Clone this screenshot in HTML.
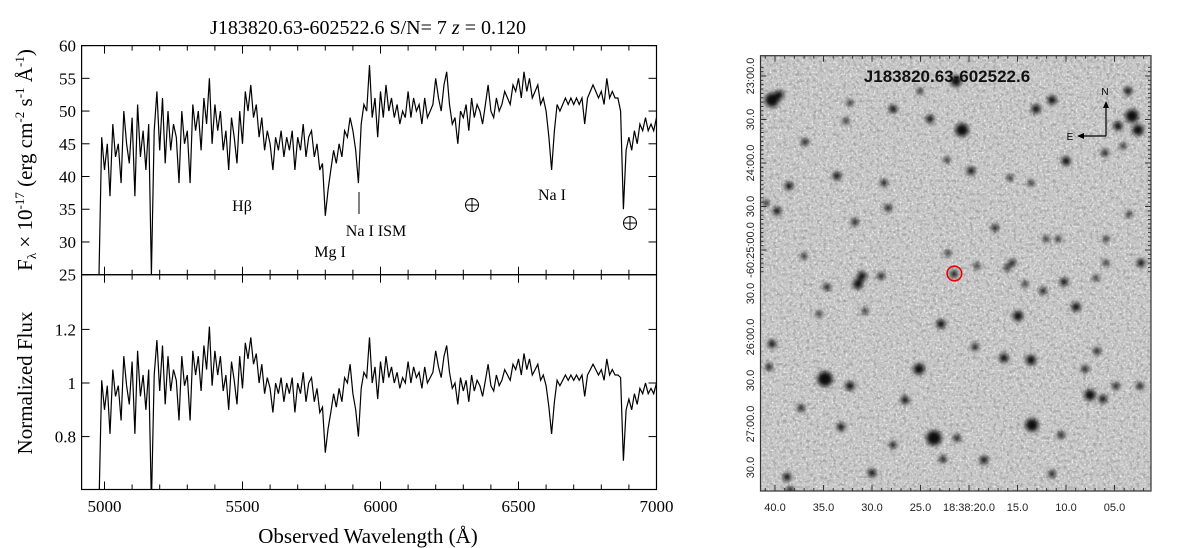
<!DOCTYPE html>
<html><head><meta charset="utf-8">
<style>
html,body{margin:0;padding:0;background:#fff;}
svg{display:block;}
.serif{font-family:"Liberation Serif",serif;}
.sans{font-family:"Liberation Sans",sans-serif;}
</style></head>
<body>
<svg id="root" width="1200" height="548" viewBox="0 0 1200 548" xmlns="http://www.w3.org/2000/svg">
<defs>
  <clipPath id="clipTop"><rect x="81.6" y="45.6" width="574.9" height="229.1"/></clipPath>
  <clipPath id="clipBot"><rect x="81.6" y="274.7" width="574.9" height="214.8"/></clipPath>
  <clipPath id="clipImg"><rect x="760.5" y="55.7" width="390.5" height="435.3"/></clipPath>
  <filter id="noiseW" x="0" y="0" width="100%" height="100%">
    <feTurbulence type="fractalNoise" baseFrequency="0.5" numOctaves="2" seed="7"/>
    <feColorMatrix type="matrix" values="0 0 0 0 1  0 0 0 0 1  0 0 0 0 1  4 0 0 0 -2.1"/>
  </filter>
  <filter id="noiseD" x="0" y="0" width="100%" height="100%">
    <feTurbulence type="fractalNoise" baseFrequency="0.3" numOctaves="2" seed="23"/>
    <feColorMatrix type="matrix" values="0 0 0 0 0  0 0 0 0 0  0 0 0 0 0  -3 0 0 0 1.6"/>
  </filter>
  <filter id="blur" x="-100%" y="-100%" width="300%" height="300%"><feGaussianBlur stdDeviation="2"/></filter>
</defs>
<g id="spec"></g>
<g id="img"></g>
</svg>
<script>
const wlStart = 4980;
const wlStep = 10;
const flux = [25,46,41,45,37,48,43,45,39,50,45,42,49,37,51,43,47,41,48,25,47,53,44,52,42,50,44,48,46,39,50,45,47,39,51,47,50,44,52,48,55,45,51,47,50,44,47,41,49,46,42,50,
45,53,50,54,49,51,46,49,44,47,45,41,46,44,47,43,46,44,47,41,46,44,48,43,46,47,43,45,41,42,34,38,41,44,42,45,43,47,46,49,
47,44,39,48,51,50,57,49,52,46,53,49,54,50,52,49,51,48,50,49,53,49,52,50,51,48,52,49,50,51,55,52,50,54,56,51,48,49,45,50,
49,51,47,52,49,51,50,48,51,54,50,49,52,50,51,53,52,51,54,53,55,52,56,53,55,52,53,54,51,52,50,46,41,47,51,50,51,52,51,52,51,52,51,52,48,52,53,54,53,52,53,51,55,52,53,52,52,
50,35,44,46,44,47,45,48,47,49,47,48,47,49];
const norm = [0.55,1.01,0.90,0.99,0.81,1.05,0.95,0.99,0.86,1.10,0.99,0.92,1.08,0.81,1.12,0.95,1.03,0.90,1.05,0.55,1.03,1.16,0.97,1.14,0.92,1.10,0.97,1.05,1.01,0.86,1.10,0.99,1.03,0.86,1.12,1.03,1.10,0.97,1.14,1.05,1.21,0.99,1.12,1.03,1.10,0.97,1.03,0.90,1.08,1.01,0.92,1.10,
0.98,1.15,1.09,1.17,1.07,1.11,1.00,1.07,0.96,1.02,0.98,0.89,1.00,0.96,1.02,0.93,1.00,0.96,1.02,0.89,1.00,0.96,1.04,0.93,1.00,1.02,0.93,0.98,0.89,0.91,0.74,0.83,0.89,0.96,0.91,0.98,0.93,1.02,1.00,1.07,
0.96,0.90,0.80,0.98,1.04,1.02,1.17,1.00,1.06,0.94,1.08,1.00,1.10,1.02,1.06,1.00,1.04,0.98,1.02,1.00,1.08,1.00,1.06,1.02,1.04,0.98,1.06,1.00,1.02,1.04,1.12,1.06,1.02,1.10,1.14,1.04,0.98,1.00,0.92,1.02,
0.97,1.01,0.93,1.03,0.97,1.01,0.99,0.95,1.01,1.07,0.99,0.97,1.03,0.99,1.01,1.05,1.03,1.01,1.07,1.05,1.09,1.03,1.11,1.05,1.09,1.03,1.05,1.07,1.01,1.03,0.99,0.91,0.81,0.93,1.01,0.99,1.01,1.03,1.01,1.03,1.01,1.03,1.01,1.03,0.95,1.03,1.05,1.07,1.05,1.03,1.05,1.01,1.09,1.03,1.05,1.03,1.03,
1.02,0.71,0.90,0.94,0.90,0.96,0.92,0.98,0.96,1.00,0.96,0.98,0.96,1.00];
const xTicks = [5000,5500,6000,6500,7000];
const topTicks = [25,30,35,40,45,50,55,60];
const botTicks = [0.8,1.0,1.2];
const botTickLabels = ["0.8","1","1.2"];

const NS='http://www.w3.org/2000/svg';
function mk(tag, attrs, parent, text){const e=document.createElementNS(NS,tag);for(const k in attrs)e.setAttribute(k,attrs[k]);if(text!==undefined)e.textContent=text;parent.appendChild(e);return e;}
const spec=document.getElementById('spec');
const L=81.6,R=656.5,T=45.6,M=274.7,B=489.5;
const xS=w=>104.5+(w-5000)*(R-104.5)/2000;
const yTop=v=>T+(60-v)*(M-T)/35;
const yBot=v=>383+(1-v)*268;

function series(arr, yf, clip, name){
  let d='';
  for(let i=0;i<arr.length;i++){const w=wlStart+i*wlStep;d+=(i?'L':'M')+xS(w).toFixed(1)+' '+yf(arr[i]).toFixed(1);}
  const p=mk('path',{d:d,fill:'none',stroke:'#000','stroke-width':1.2,'clip-path':'url(#'+clip+')'},spec);
  
  
}
series(flux,yTop,'clipTop','flux-line');
series(norm,yBot,'clipBot','normalized-flux-line');

const f1=mk('rect',{x:L,y:T,width:R-L,height:M-T,fill:'none',stroke:'#000','stroke-width':1.2},spec);


const f2=mk('rect',{x:L,y:M,width:R-L,height:B-M,fill:'none',stroke:'#000','stroke-width':1.2},spec);



for(let w=5000;w<=7000;w+=100){
  const x=xS(w),len=(w%500===0)?8:5;
  mk('line',{x1:x,x2:x,y1:T,y2:T+len,stroke:'#000'},spec);
  mk('line',{x1:x,x2:x,y1:M-len,y2:M+len,stroke:'#000'},spec);
  mk('line',{x1:x,x2:x,y1:B,y2:B-len,stroke:'#000'},spec);
}
xTicks.forEach(w=>{
  const t=mk('text',{x:xS(w),y:512,'text-anchor':'middle','font-size':17,class:'serif'},spec,String(w));
  
  
});
topTicks.forEach(v=>{
  const y=yTop(v);
  mk('line',{x1:L,x2:L+8,y1:y,y2:y,stroke:'#000'},spec);
  mk('line',{x1:R,x2:R-8,y1:y,y2:y,stroke:'#000'},spec);
  const t=mk('text',{x:76,y:y+6,'text-anchor':'end','font-size':17,class:'serif'},spec,String(v));
  
  
});
botTicks.forEach((v,i)=>{
  const y=yBot(v);
  mk('line',{x1:L,x2:L+8,y1:y,y2:y,stroke:'#000'},spec);
  mk('line',{x1:R,x2:R-8,y1:y,y2:y,stroke:'#000'},spec);
  const t=mk('text',{x:76,y:y+6,'text-anchor':'end','font-size':17,class:'serif'},spec,botTickLabels[i]);
  
  
});
</script>
<script>
(function(){
const spec=document.getElementById('spec');
spec.insertAdjacentHTML('beforeend',`
<text class="serif" x="368" y="34" text-anchor="middle" font-size="20">J183820.63-602522.6 S/N= 7  <tspan font-style="italic">z</tspan>  = 0.120</text>
<text class="serif" transform="translate(32,160) rotate(-90)" text-anchor="middle" font-size="21">F<tspan font-size="13" dy="4">λ</tspan><tspan dy="-4"> × 10</tspan><tspan font-size="13" dy="-8">-17</tspan><tspan dy="8"> (erg cm</tspan><tspan font-size="13" dy="-8">-2</tspan><tspan dy="8"> s</tspan><tspan font-size="13" dy="-8">-1</tspan><tspan dy="8"> Å</tspan><tspan font-size="13" dy="-8">-1</tspan><tspan dy="8">)</tspan></text>
<text class="serif" transform="translate(32,383) rotate(-90)" text-anchor="middle" font-size="21">Normalized Flux</text>
<text class="serif" x="368" y="543" text-anchor="middle" font-size="21">Observed Wavelength (Å)</text>
<text class="serif" x="242" y="211" text-anchor="middle" font-size="16">Hβ</text>
<text class="serif" x="330" y="257" text-anchor="middle" font-size="16">Mg I</text>
<text class="serif" x="376" y="236" text-anchor="middle" font-size="16">Na I ISM</text>
<line x1="359" x2="359" y1="192" y2="214" stroke="#000"/>
<text class="serif" x="552" y="200" text-anchor="middle" font-size="16">Na I</text>
<g><circle cx="472" cy="205" r="6.5" fill="none" stroke="#000"/><path d="M465.5 205H478.5M472 198.5V211.5" stroke="#000"/></g>
<g><circle cx="630" cy="223" r="6.5" fill="none" stroke="#000"/><path d="M623.5 223H636.5M630 216.5V229.5" stroke="#000"/></g>
`);
})();
</script>
<script>
(function(){
const NS='http://www.w3.org/2000/svg';
const g=document.getElementById('img');
const X0=760.5,Y0=55.7,W=390.5,H=435.3;
function mk(tag, attrs, parent, text){const e=document.createElementNS(NS,tag);for(const k in attrs)e.setAttribute(k,attrs[k]);if(text!==undefined)e.textContent=text;parent.appendChild(e);return e;}
const bg=mk('rect',{x:X0,y:Y0,width:W,height:H,fill:'#c6c6c6'},g);


mk('rect',{x:X0,y:Y0,width:W,height:H,fill:'#000',filter:'url(#noiseD)',opacity:0.18,'clip-path':'url(#clipImg)'},g);
mk('rect',{x:X0,y:Y0,width:W,height:H,fill:'#fff',filter:'url(#noiseW)',opacity:0.7,'clip-path':'url(#clipImg)'},g);
const stars=[[772,100,6.5],[779,95,4],[962,130,6],[1132,116,6],[1138,130,5],[1118,126,4],[1036,109,4],[1052,100,4],[893,109,3.5],[930,119,3.5],[956,81,5],[1128,91,3.5],[805,142,3],[1066,161,4],[971,171,3.5],[837,176,3.5],[789,186,3.5],[777,211,3.5],[888,208,3],[995,228,3],[858,284,4.5],[862,276,4],[881,276,3],[827,287,3],[948,253,2.5],[1012,263,3],[1064,282,3.5],[1018,316,4.5],[1076,307,4],[941,324,4],[1043,291,3],[772,344,3.5],[825,379,7],[919,369,5],[850,386,4],[905,400,3.5],[1004,358,4],[1031,360,4.5],[975,347,3],[1090,395,5],[1103,399,3.5],[1085,369,3],[1097,351,3],[1116,386,3],[1032,425,6],[934,438,7],[841,427,3.5],[801,408,3],[984,460,3.5],[943,459,3],[872,473,3.5],[787,477,3.5],[1052,474,3],[1061,435,3],[769,367,3],[893,445,3],[957,438,3],[1140,386,3],[790,490,3],[1105,153,3],[1123,146,2.5],[920,91,2.5],[846,121,2.5],[850,103,2.5],[1141,263,3.5],[1046,239,2.5],[1058,239,2.5],[1106,239,2.5],[1106,263,2.5],[1096,278,2.5],[804,256,2.5],[855,222,3],[884,183,3],[947,160,2.5],[1010,178,2.5],[1129,214,2.5],[766,203,2.5],[819,314,2.5],[865,311,2.5],[977,266,2.5],[1031,183,2.5],[1007,268,2.5],[1025,284,2.5],[954,274,3.2]];
const sg=mk('g',{'clip-path':'url(#clipImg)'},g);
const sg2=mk('g',{filter:'url(#blur)'},sg);
stars.forEach(s=>{
  const c=mk('circle',{cx:s[0],cy:s[1],r:s[2]+0.5,fill:'#0a0a0a'},sg2);
  
  
});
const ring=mk('circle',{cx:954.4,cy:273.5,r:7.3,fill:'none',stroke:'#e00','stroke-width':1.6},g);


const fr=mk('rect',{x:X0,y:Y0,width:W,height:H,fill:'none',stroke:'#333','stroke-width':1.2},g);


const raLabels=['40.0','35.0','30.0','25.0','18:38:20.0','15.0','10.0','05.0'];
const raX=s=>775+(40-s)*9.7;
for(let s=41;s>=0;s--){const x=raX(s);if(x<X0||x>X0+W)continue;const len=(s%5===0)?6:3;
  mk('line',{x1:x,x2:x,y1:Y0+H,y2:Y0+H-len,stroke:'#333'},g);mk('line',{x1:x,x2:x,y1:Y0,y2:Y0+len,stroke:'#333'},g);}
raLabels.forEach((lab,i)=>{
  const t=mk('text',{x:raX(40-5*i),y:511,'text-anchor':'middle','font-size':11,class:'sans',fill:'#222'},g,lab);
  
  
});
const decLabels=['23:00.0','30.0','24:00.0','30.0','-60:25:00.0','30.0','26:00.0','30.0','27:00.0','30.0'];
const decY=i=>76+i*43.5;
for(let k=-2;k<=45;k++){const y=76+k*4.35;if(y<Y0||y>Y0+H)continue;const len=(k%10===0)?6:3;
  mk('line',{x1:X0,x2:X0+len,y1:y,y2:y,stroke:'#333'},g);mk('line',{x1:X0+W,x2:X0+W-len,y1:y,y2:y,stroke:'#333'},g);}
decLabels.forEach((lab,i)=>{
  const y=decY(i);
  const t=mk('text',{transform:`translate(754,${y}) rotate(-90)`,'text-anchor':'middle','font-size':11,class:'sans',fill:'#222'},g,lab);
  
  
});
g.insertAdjacentHTML('beforeend',`
<text class="sans" x="947" y="82" text-anchor="middle" font-size="17" font-weight="bold" fill="#111">J183820.63-602522.6</text>
<g>
<line x1="1106" y1="136" x2="1106" y2="106" stroke="#000" stroke-width="1.2"/>
<path d="M1106 101 L1103 108 L1109 108Z" fill="#000"/>
<line x1="1106" y1="136" x2="1082" y2="136" stroke="#000" stroke-width="1.2"/>
<path d="M1077 136 L1084 133 L1084 139Z" fill="#000"/>
<text class="sans" x="1105" y="95" text-anchor="middle" font-size="10">N</text>
<text class="sans" x="1070" y="140" text-anchor="middle" font-size="10">E</text>
</g>`);
})();
</script>
</body></html>
